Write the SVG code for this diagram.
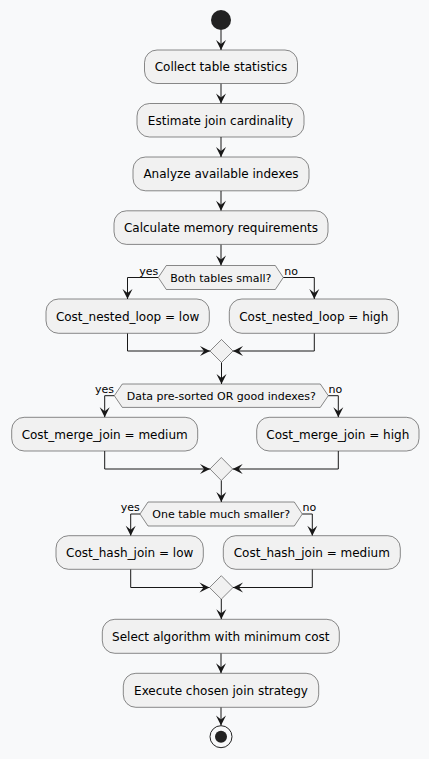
<svg xmlns="http://www.w3.org/2000/svg" width="429" height="759" viewBox="0 0 429 759">
<style>
.bg{fill:#F8F9FA}
.box{fill:#F1F1F1;stroke:#181818;stroke-width:0.5}
.t{font-family:"DejaVu Sans",sans-serif;font-size:12px;fill:#000;text-anchor:middle}
.d{font-family:"DejaVu Sans",sans-serif;font-size:11px;fill:#000;text-anchor:middle}
.l{font-family:"DejaVu Sans",sans-serif;font-size:11px;fill:#000}
.y{text-anchor:end}
.e{fill:none;stroke:#181818;stroke-width:1}
</style>
<defs>
<marker id="ah" viewBox="-11 -6 12 12" refX="0" refY="0" markerWidth="12" markerHeight="12" markerUnits="userSpaceOnUse" orient="auto">
<path d="M0,0 L-10,-5 L-6,0 L-10,5 Z" fill="#181818"/>
</marker>
</defs>
<rect class="bg" x="0" y="0" width="429" height="759"/>
<g id="connectors">
<path class="e" marker-end="url(#ah)" d="M221,30 V50"/>
<path class="e" marker-end="url(#ah)" d="M221,83.5 V103.5"/>
<path class="e" marker-end="url(#ah)" d="M221,137 V157"/>
<path class="e" marker-end="url(#ah)" d="M221,190.8 V210.8"/>
<path class="e" marker-end="url(#ah)" d="M221,244.4 V265.5"/>
<path class="e" marker-end="url(#ah)" d="M158.3,277.5 H127.5 V299"/>
<path class="e" marker-end="url(#ah)" d="M283.3,277.5 H314.3 V299"/>
<path class="e" marker-end="url(#ah)" d="M127.5,333.3 V351 H210"/>
<path class="e" marker-end="url(#ah)" d="M314.3,333.3 V351 H233"/>
<path class="e" marker-end="url(#ah)" d="M221.5,362.5 V384"/>
<path class="e" marker-end="url(#ah)" d="M114.3,395.7 H104.7 V417.3"/>
<path class="e" marker-end="url(#ah)" d="M328.3,395.7 H338.3 V417.3"/>
<path class="e" marker-end="url(#ah)" d="M104.7,451 V469 H210"/>
<path class="e" marker-end="url(#ah)" d="M338.3,451 V469 H232.7"/>
<path class="e" marker-end="url(#ah)" d="M221.3,480.5 V502"/>
<path class="e" marker-end="url(#ah)" d="M140,514 H130.7 V535.7"/>
<path class="e" marker-end="url(#ah)" d="M302.3,514 H312.3 V535.7"/>
<path class="e" marker-end="url(#ah)" d="M130.7,569.3 V587.5 H209.5"/>
<path class="e" marker-end="url(#ah)" d="M312.3,569.3 V587.5 H233"/>
<path class="e" marker-end="url(#ah)" d="M221.3,599 V619.3"/>
<path class="e" marker-end="url(#ah)" d="M221,653.3 V673.3"/>
<path class="e" marker-end="url(#ah)" d="M221,707.3 V725.5"/>
<text class="l y" x="158.3" y="274.5">yes</text>
<text class="l" x="284.3" y="274.5">no</text>
<text class="l y" x="114" y="393">yes</text>
<text class="l" x="328.6" y="393">no</text>
<text class="l y" x="139.8" y="511">yes</text>
<text class="l" x="302.6" y="511">no</text>
</g>
<g id="start"><circle cx="221" cy="20" r="10" fill="#222222"/></g>
<g id="n1"><rect class="box" x="144.5" y="50" width="153" height="33.5" rx="12.5"/><text class="t" x="221" y="71">Collect table statistics</text></g>
<g id="n2"><rect class="box" x="137" y="103.5" width="167" height="33.5" rx="12.5"/><text class="t" x="220.5" y="124.5">Estimate join cardinality</text></g>
<g id="n3"><rect class="box" x="133" y="157" width="176" height="33.8" rx="12.5"/><text class="t" x="221" y="178.2">Analyze available indexes</text></g>
<g id="n4"><rect class="box" x="114" y="210.8" width="214" height="33.6" rx="12.5"/><text class="t" x="221" y="232">Calculate memory requirements</text></g>
<g id="d1"><polygon class="box" points="158.3,277.5 166.3,265.5 275.3,265.5 283.3,277.5 275.3,289.5 166.3,289.5"/><text class="d" x="220.8" y="281.5">Both tables small?</text></g>
<g id="n5"><rect class="box" x="46" y="299" width="163.3" height="34.3" rx="12.5"/><text class="t" x="127.6" y="320.5">Cost_nested_loop = low</text></g>
<g id="n6"><rect class="box" x="229.3" y="299" width="169" height="34.3" rx="12.5"/><text class="t" x="313.8" y="320.5">Cost_nested_loop = high</text></g>
<g id="m1"><polygon class="box" points="221.5,339.5 233,351 221.5,362.5 210,351"/></g>
<g id="d2"><polygon class="box" points="114.3,395.7 122.3,384 320.3,384 328.3,395.7 320.3,407.4 122.3,407.4"/><text class="d" x="221.3" y="399.7">Data pre-sorted OR good indexes?</text></g>
<g id="n7"><rect class="box" x="11.7" y="417.3" width="186" height="33.7" rx="12.5"/><text class="t" x="104.7" y="438.5">Cost_merge_join = medium</text></g>
<g id="n8"><rect class="box" x="256.7" y="417.3" width="162.3" height="33.7" rx="12.5"/><text class="t" x="337.8" y="438.5">Cost_merge_join = high</text></g>
<g id="m2"><polygon class="box" points="221.3,457.5 232.7,469 221.3,480.5 210,469"/></g>
<g id="d3"><polygon class="box" points="140,514 148,502 294.3,502 302.3,514 294.3,526 148,526"/><text class="d" x="221.2" y="518">One table much smaller?</text></g>
<g id="n9"><rect class="box" x="56" y="535.7" width="147.3" height="33.6" rx="12.5"/><text class="t" x="129.7" y="556.8">Cost_hash_join = low</text></g>
<g id="n10"><rect class="box" x="223.3" y="535.7" width="177" height="33.6" rx="12.5"/><text class="t" x="311.8" y="556.8">Cost_hash_join = medium</text></g>
<g id="m3"><polygon class="box" points="221.3,575.7 233,587.5 221.3,599.2 209.5,587.5"/></g>
<g id="n11"><rect class="box" x="102.3" y="619.3" width="237" height="34" rx="12.5"/><text class="t" x="220.8" y="640.6">Select algorithm with minimum cost</text></g>
<g id="n12"><rect class="box" x="123.3" y="673.3" width="195.4" height="34" rx="12.5"/><text class="t" x="221" y="694.6">Execute chosen join strategy</text></g>
<g id="end"><circle cx="221" cy="736.7" r="11" fill="none" stroke="#222222" stroke-width="1"/><circle cx="221" cy="736.7" r="6" fill="#222222"/></g>
</svg>
